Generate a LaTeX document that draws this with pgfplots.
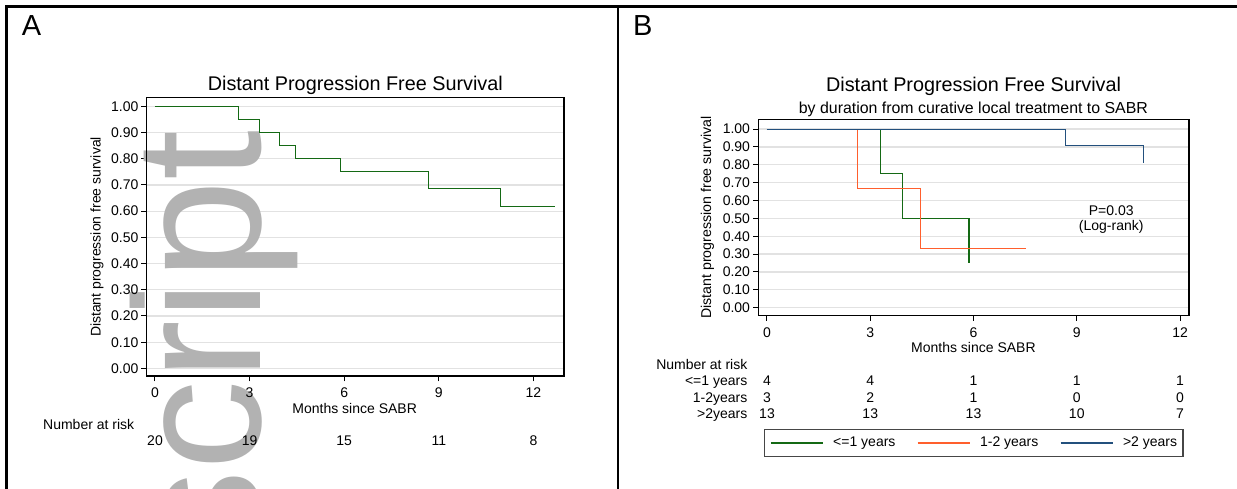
\documentclass[border=0pt]{standalone}
\usepackage{fontspec}
\setmainfont{Liberation Sans}
\usepackage{pgfplots}
\pgfplotsset{compat=1.18}
\definecolor{kmgreen}{RGB}{20,105,20}
\definecolor{kmorange}{RGB}{255,95,45}
\definecolor{kmblue}{RGB}{35,80,125}
\definecolor{gridgray}{RGB}{226,226,226}
\definecolor{wmgray}{RGB}{178,178,178}
\definecolor{legframe}{RGB}{70,70,70}
\newcommand{\fs}[1]{\fontsize{#1bp}{#1bp}\selectfont}
\pgfplotsset{
  kmstyle/.style={
    scale only axis,
    clip=false,
    axis line style={black, line width=1.1bp},
    tick style={black, line width=1bp},
    major tick length=5.3bp,
    tick align=outside,
    tick pos=left,
    xtick={0,3,6,9,12},
    ytick={0,0.1,0.2,0.3,0.4,0.5,0.6,0.7,0.8,0.9,1},
    ymajorgrids,
    grid style={gridgray, line width=1.3bp},
    tick label style={font=\fs{14}},
    yticklabel style={anchor=east, inner sep=0bp, xshift=-2.8bp},
    xticklabel style={anchor=base, inner sep=0bp, yshift=-16.5bp},
    yticklabel style={/pgf/number format/.cd, fixed, fixed zerofill, precision=2, assume math mode=true},
    xticklabel style={/pgf/number format/assume math mode=true},
    every axis plot/.append style={line width=1.2bp, const plot},
  }
}
\begin{document}
\begin{tikzpicture}
% panel frames
\draw[line width=2.8bp] (6.7bp,-2bp) -- (6.7bp,482.3bp) -- (1240bp,482.3bp);
\draw[line width=2.8bp] (618bp,-2bp) -- (618bp,482.3bp);

% ---------------- Panel A ----------------
\begin{axis}[kmstyle, set layers, at={(146.7bp,113bp)}, anchor=south west,
  width=417.3bp, height=278.3bp,
  xmin=-0.26, xmax=12.97, ymin=-0.029, ymax=1.033]
\addplot[kmgreen] coordinates {(0,1) (2.64,0.95) (3.31,0.90) (3.94,0.85) (4.47,0.80) (5.88,0.75) (8.68,0.6875) (10.95,0.619) (12.69,0.619)};
\begin{pgfonlayer}{axis ticks}
\node[rotate=90, anchor=base east, text=wmgray, font=\fs{180}, inner sep=0pt] at (axis cs:3.36,0.91) {script};
\end{pgfonlayer}
\end{axis}
\node[anchor=base west, font=\fs{29}, inner sep=0pt] at (21.7bp,453.3bp) {A};
\node[anchor=base, font=\fs{19.8}, inner sep=0pt] at (355.3bp,398.3bp) {Distant Progression Free Survival};
\node[rotate=90, font=\fs{14}, inner sep=0pt] at (97bp,252bp) {Distant progression free survival};
\node[anchor=base, font=\fs{14}, inner sep=0pt] at (354.7bp,75.7bp) {Months since SABR};
\node[anchor=base east, font=\fs{14}, inner sep=0pt] at (134.4bp,59bp) {Number at risk};
\foreach \xx/\n in {155/20, 249.6/19, 344.2/15, 438.8/11, 533.4/8}
  \node[anchor=base, font=\fs{14}, inner sep=0pt] at (\xx bp,43.3bp) {\n};

% ---------------- Panel B ----------------
\begin{axis}[kmstyle, at={(758.3bp,173.3bp)}, anchor=south west,
  width=430.7bp, height=196.4bp,
  xmin=-0.25, xmax=12.26, ymin=-0.045, ymax=1.055,
  legend style={at={(0.5,-0.577)}, anchor=north, legend columns=3, draw=legframe,
    line width=1.3bp, font=\fs{14}, inner xsep=6bp, inner ysep=6.8bp,
    nodes={inner sep=0bp, text height=10bp, text depth=3bp},
    /tikz/every odd column/.append style={column sep=9.4bp},
    /tikz/every even column/.append style={column sep=21.6bp}},
  legend image code/.code={\draw[#1] (0bp,0bp) -- (52.4bp,0bp);},
]
\addplot[kmgreen] coordinates {(0,1) (3.31,0.75) (3.94,0.5) (5.87,0.25)};
\addlegendentry{<=1 years}
\addplot[kmorange] coordinates {(0,1) (2.63,0.667) (4.47,0.333) (7.52,0.333)};
\addlegendentry{1-2 years}
\addplot[kmblue] coordinates {(0,1) (8.67,0.909) (10.94,0.81)};
\addlegendentry{>2 years}
\end{axis}
\node[anchor=base west, font=\fs{29}, inner sep=0pt] at (633bp,453bp) {B};
\node[anchor=base, font=\fs{19.8}, inner sep=0pt] at (973.6bp,397.5bp) {Distant Progression Free Survival};
\node[anchor=base, font=\fs{15.9}, inner sep=0pt] at (973.4bp,375.7bp) {by duration from curative local treatment to SABR};
\node[rotate=90, font=\fs{14.2}, inner sep=0pt] at (707.4bp,271.5bp) {Distant progression free survival};
\node[anchor=base, font=\fs{14}, inner sep=0pt] at (973.4bp,136.3bp) {Months since SABR};
\node[anchor=base, font=\fs{14}, inner sep=0pt] at (1111.2bp,273bp) {P=0.03};
\node[anchor=base, font=\fs{14}, inner sep=0pt] at (1111.2bp,258.3bp) {(Log-rank)};
\node[anchor=base east, font=\fs{14}, inner sep=0pt] at (747.5bp,119bp) {Number at risk};
\node[anchor=base east, font=\fs{14}, inner sep=0pt] at (747.5bp,103.3bp) {<=1 years};
\node[anchor=base east, font=\fs{14}, inner sep=0pt] at (747.5bp,86.7bp) {1-2years};
\node[anchor=base east, font=\fs{14}, inner sep=0pt] at (747.5bp,70bp) {>2years};
\foreach \xx/\a/\b/\c in {767/4/3/13, 870.25/4/2/13, 973.5/1/1/13, 1076.75/1/0/10, 1180/1/0/7} {
  \node[anchor=base, font=\fs{14}, inner sep=0pt] at (\xx bp,103.3bp) {\a};
  \node[anchor=base, font=\fs{14}, inner sep=0pt] at (\xx bp,86.7bp) {\b};
  \node[anchor=base, font=\fs{14}, inner sep=0pt] at (\xx bp,70bp) {\c};
}
\pgfresetboundingbox
\useasboundingbox (0bp,0bp) rectangle (1237bp,489bp);
\end{tikzpicture}
\end{document}
